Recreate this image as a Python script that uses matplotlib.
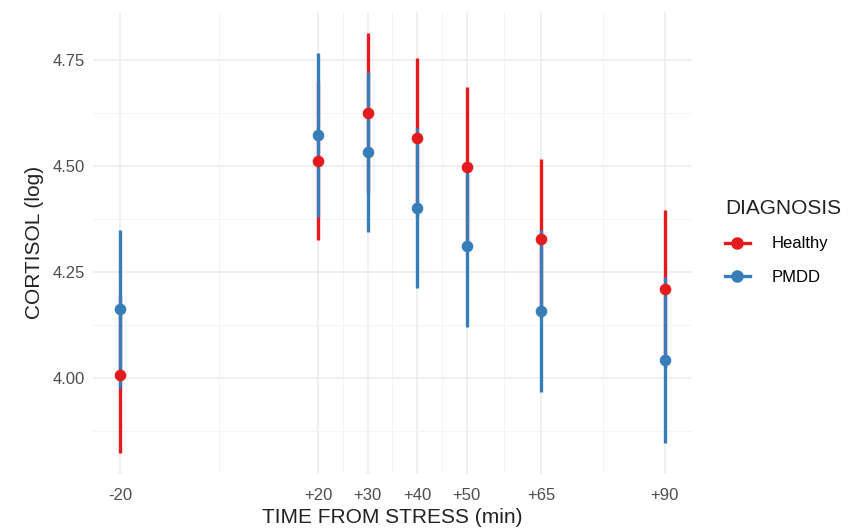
import matplotlib.pyplot as plt
from matplotlib.lines import Line2D
from matplotlib.ticker import FixedLocator

plt.rcParams['font.family'] = ['Liberation Sans', 'DejaVu Sans']

# data
time_min = [-20, 20, 30, 40, 50, 65, 90]
tick_labels = ['-20', '+20', '+30', '+40', '+50', '+65', '+90']

healthy_mean = [4.007, 4.512, 4.624, 4.566, 4.498, 4.328, 4.210]
healthy_lo = [3.822, 4.325, 4.436, 4.378, 4.311, 4.141, 4.024]
healthy_hi = [4.192, 4.699, 4.813, 4.755, 4.686, 4.516, 4.396]

pmdd_mean = [4.162, 4.573, 4.533, 4.401, 4.311, 4.158, 4.042]
pmdd_lo = [3.976, 4.380, 4.344, 4.212, 4.120, 3.967, 3.847]
pmdd_hi = [4.349, 4.767, 4.722, 4.590, 4.502, 4.349, 4.237]

RED = '#E41A1C'
BLUE = '#377EB8'

fig = plt.figure(figsize=(8.48, 5.29), dpi=100)
ax = fig.add_axes([0.1097, 0.104, 0.7063, 0.874])

# ranges first (red then blue), then points on top
ax.vlines(time_min, healthy_lo, healthy_hi, color=RED, lw=2.4, zorder=3)
ax.vlines(time_min, pmdd_lo, pmdd_hi, color=BLUE, lw=2.4, zorder=3)
ax.scatter(time_min, healthy_mean, s=70, color=RED, zorder=4, linewidths=0)
ax.scatter(time_min, pmdd_mean, s=70, color=BLUE, zorder=4, linewidths=0)

ax.set_xlim(-25.5, 95.5)
ax.set_ylim(3.773, 4.864)

ax.set_xticks(time_min)
ax.set_xticklabels(tick_labels)
ax.xaxis.set_minor_locator(FixedLocator([0, 25, 35, 45, 57.5, 77.5]))
ax.set_yticks([4.00, 4.25, 4.50, 4.75])
ax.set_yticklabels(['4.00', '4.25', '4.50', '4.75'])
ax.yaxis.set_minor_locator(FixedLocator([3.875, 4.125, 4.375, 4.625]))

ax.grid(True, which='major', color='#ebebeb', lw=1.1, zorder=0)
ax.grid(True, which='minor', color='#f4f4f4', lw=0.7, zorder=0)
ax.set_axisbelow(True)
for s in ax.spines.values():
    s.set_visible(False)
ax.tick_params(which='both', length=0, labelsize=12, colors='#4d4d4d')
ax.tick_params(axis='x', pad=10)
ax.tick_params(axis='y', pad=6)

ax.set_xlabel('TIME FROM STRESS (min)', fontsize=15, color='#222222', labelpad=4)
ax.set_ylabel('CORTISOL (log)', fontsize=15, color='#222222', labelpad=6)

handles = [
    Line2D([], [], color=RED, lw=2.4, marker='o', markersize=8, label='Healthy'),
    Line2D([], [], color=BLUE, lw=2.4, marker='o', markersize=8, label='PMDD'),
]
leg = fig.legend(handles=handles, title='DIAGNOSIS', loc='upper left',
                 bbox_to_anchor=(0.837, 0.652), frameon=False, fontsize=12,
                 title_fontsize=15, handlelength=1.5, handletextpad=1.3,
                 labelspacing=1.1, alignment='left')
leg.get_title().set_color('#222222')

fig.savefig('out.png', dpi=100)
